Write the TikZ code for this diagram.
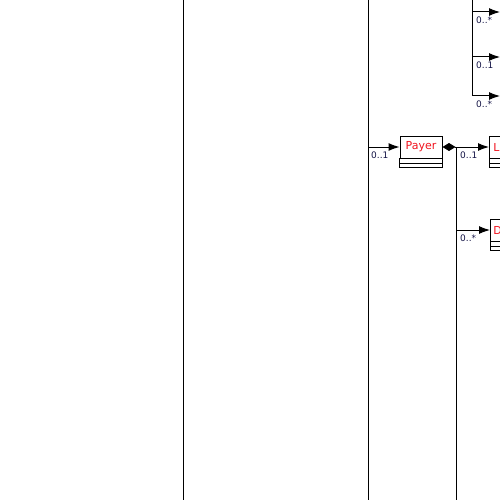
\documentclass[tikz,border=0pt]{standalone}
\usepackage{fontspec}
\setmainfont{DejaVu Sans}
\usetikzlibrary{arrows.meta,calc}

\definecolor{classname}{RGB}{240,20,30}
\definecolor{multlabel}{RGB}{20,20,70}

\tikzset{
  classbox/.style={draw, line width=1pt, minimum width=42pt, minimum height=22pt,
    inner sep=0pt, text=classname, font=\fontsize{11}{12}\selectfont},
  assoc/.style={line width=1pt, -{Latex[length=11pt,width=8pt]}},
  compose/.style={line width=1pt, {Diamond[length=13pt,width=8pt]}-{Latex[length=11pt,width=8pt]}},
  mult/.style={anchor=north west, inner sep=0pt, text=multlabel, font=\fontsize{9}{10}\selectfont},
  lifeline/.style={line width=1pt}
}

\begin{document}
\begin{tikzpicture}[x=1pt,y=-1pt]
\useasboundingbox (0,0) rectangle (500,500);

% Long vertical lines
\coordinate (top1) at (183,0);
\coordinate (bot1) at (183,500);
\coordinate (top2) at (368,0);
\coordinate (bot2) at (368,500);
\draw[lifeline] (top1) -- (bot1);
\draw[lifeline] (top2) -- (bot2);

% Classes
\node[classbox] (payer) at (421,147) {Payer};
\node[classbox, anchor=west] (lcls) at (489,147) {\hspace{-28pt}L};
\node[classbox, anchor=west] (dcls) at (490,230) {\hspace{-28pt}D};
\foreach \c in {payer,lcls,dcls} {
  \draw[line width=1pt] (\c.south west) rectangle ($(\c.south east)+(0,9)$);
  \draw[line width=1pt] ($(\c.south west)+(0,5)$) -- ($(\c.south east)+(0,5)$);
}

% Payer association
\coordinate (payin) at (368,147);
\draw[assoc] (payin) -- (payer.west);
\node[mult] at (371,152) {0..1};

% Payer composition
\draw[compose] (payer.east) -- (lcls.west);
\node[mult] at (460,152) {0..1};
\coordinate (fork) at (456,147);
\coordinate (forkend) at (456,500);
\draw[lifeline] (fork) -- (forkend);
\coordinate (dsrc) at (456,230);
\draw[assoc] (dsrc) -- (dcls.west);
\node[mult] at (460,235) {0..*};

% Top branch
\coordinate (btop) at (472,0);
\coordinate (bend) at (472,96);
\draw[lifeline] (btop) -- (bend);
\foreach \y/\m in {12/0..*,57/0..1,96/0..*} {
  \coordinate (src\y) at (472,\y);
  \coordinate (dst\y) at (500,\y);
  \draw[assoc] (src\y) -- (dst\y);
  \node[mult] at (476,\y+5) {\m};
}

\end{tikzpicture}
\end{document}
